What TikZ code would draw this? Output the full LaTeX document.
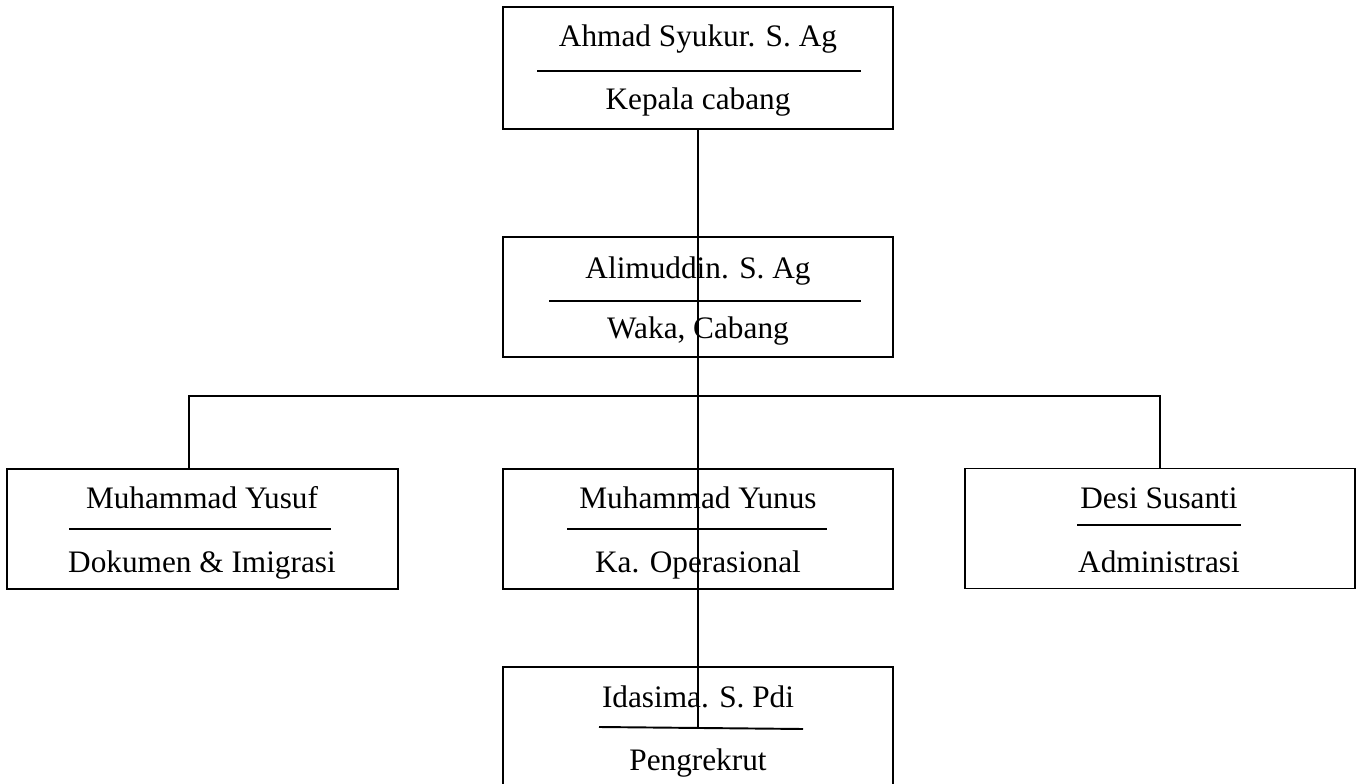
\documentclass[tikz,border=0pt]{standalone}
\usepackage{fontspec}
\setmainfont{Liberation Serif}
\usetikzlibrary{positioning}

\tikzset{
	jabatan/.style={draw, line width=1.1pt, minimum width=7.8cm, minimum height=2.4cm, inner sep=0pt},
	nama/.style={anchor=base, inner sep=0pt, font=\fontsize{17.8}{20}\selectfont},
	garis/.style={line width=1.1pt},
}

\begin{document}
\begin{tikzpicture}[x=0.02cm, y=-0.02cm]
		\useasboundingbox (0,0) rectangle (1357,784);
		
		
		\node[jabatan, minimum height=2.44cm] (kepala) at (698,68) {};
		\node[jabatan] (waka) at (698,297) {};
		\node[jabatan, minimum width=7.82cm] (dokumen) at (202.5,529) {};
		\node[jabatan] (operasional) at (698,529) {};
		\node[jabatan] (admin) at (1160,528.5) {};
		\node[jabatan] (rekrut) at (698,727) {};
		
		
		\node[nama] (nKepala) at (698,47) {Ahmad Syukur. S. Ag};
		\node[nama] (jKepala) at (698,110) {Kepala cabang};
		\draw[garis] (537,71) -- (861,71);
		
		\node[nama] (nWaka) at (698,278) {Alimuddin. S. Ag};
		\node[nama] (jWaka) at (698,338) {Waka, Cabang};
		\draw[garis] (549,301) -- (861,301);
		
		\node[nama] (nDokumen) at (202,508) {Muhammad Yusuf};
		\node[nama] (jDokumen) at (202,572) {Dokumen \& Imigrasi};
		\draw[garis] (69,529) -- (331,529);
		
		\node[nama] (nOperasional) at (698,508) {Muhammad Yunus};
		\node[nama] (jOperasional) at (698,572) {Ka. Operasional};
		\draw[garis] (567,529) -- (827,529);
		
		\node[nama] (nAdmin) at (1159,508) {Desi Susanti};
		\node[nama] (jAdmin) at (1159,572) {Administrasi};
		\draw[garis] (1077,525) -- (1241,525);
		
		\node[nama] (nRekrut) at (698,707) {Idasima. S. Pdi};
		\node[nama] (jRekrut) at (698,770) {Pengrekrut};
		\draw[garis] (599,727) -- (803,729);
		
		
		\coordinate (cabang) at (698,396);
		\coordinate (ujung) at (698,728);
		
		\draw[garis] (kepala.south) -- (ujung);
		\draw[garis] ([xshift=-0.27cm]dokumen.north) |- (cabang) -| (admin.north);
		
	\end{tikzpicture}
\end{document}
